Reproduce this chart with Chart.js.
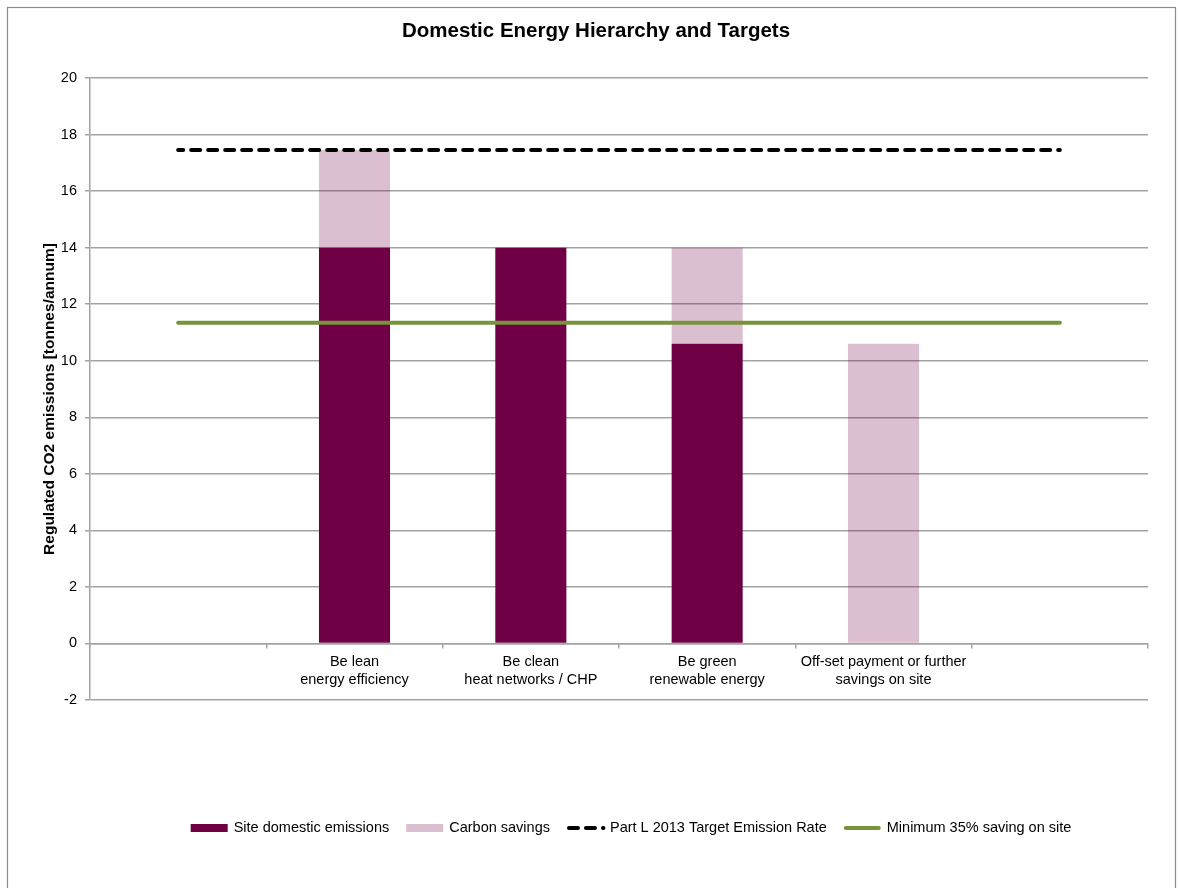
<!DOCTYPE html>
<html>
<head>
<meta charset="utf-8">
<title>Domestic Energy Hierarchy and Targets</title>
<script src="https://cdn.jsdelivr.net/npm/chart.js@4.4.1/dist/chart.umd.min.js"></script>
<style>
    html, body { margin: 0; padding: 0; background: #fff; }
    #wrap { position: relative; width: 1178px; height: 888px; }
</style>
</head>
<body>
<div id="wrap"><canvas id="chartEnergy"></canvas></div>
<script>
// Data
const categories = [
    '',
    ['Be lean', 'energy efficiency'],
    ['Be clean', 'heat networks / CHP'],
    ['Be green', 'renewable energy'],
    ['Off-set payment or further', 'savings on site'],
    ''
];
const siteEmissions = [null, 14.0, 14.0, 10.6, 0, null];
const carbonSavings = [null, 3.45, 0, 3.4, 10.6, null];
const targetEmissionRate = [17.45, 17.45, 17.45, 17.45, 17.45, 17.45];
const minimumSaving = [11.34, 11.34, 11.34, 11.34, 11.34, 11.34];
const yTicks = [-2, 0, 2, 4, 6, 8, 10, 12, 14, 16, 18, 20];
const seriesNames = ['Site domestic emissions', 'Carbon savings', 'Part L 2013 Target Emission Rate', 'Minimum 35% saving on site'];
const yAxisTitle = 'Regulated CO2 emissions [tonnes/annum]';

const FONT = '"Liberation Sans", Arial, sans-serif';
const darkPurple = '#6F0045';
const lightPurple = 'rgba(111, 0, 69, 0.25)';
const green = '#77933C';
const gridGray = '#A3A3A3';

// Legend, judul sumbu Y dan frame digambar manual supaya posisinya sama dengan gambar
const legendAndFrame = {
    id: 'legendAndFrame',
    afterDraw(chart) {
        const ctx = chart.ctx;
        ctx.save();

        ctx.strokeStyle = '#8C8C8C';
        ctx.lineWidth = 1.2;
        ctx.strokeRect(7.5, 7.5, 1168, 920);

        // judul sumbu Y
        ctx.save();
        ctx.translate(50, 399);
        ctx.rotate(-Math.PI / 2);
        ctx.font = 'bold 15.5px ' + FONT;
        ctx.textAlign = 'center';
        ctx.textBaseline = 'middle';
        ctx.fillStyle = '#000';
        ctx.fillText(yAxisTitle, 0, 0);
        ctx.restore();

        ctx.font = '14.5px ' + FONT;
        ctx.textBaseline = 'middle';
        ctx.fillStyle = '#000';
        const y = 828;
        const sample = 37, gapText = 6, gapItem = 17;
        const widths = seriesNames.map(n => sample + gapText + ctx.measureText(n).width);
        const total = widths.reduce((a, b) => a + b, 0) + gapItem * (widths.length - 1);
        let x = 631 - total / 2;

        seriesNames.forEach((name, i) => {
            if (i < 2) {
                ctx.fillStyle = i === 0 ? darkPurple : lightPurple;
                ctx.fillRect(x, y - 4, sample, 8);
            } else {
                ctx.beginPath();
                ctx.lineWidth = 4;
                ctx.lineCap = 'round';
                ctx.strokeStyle = i === 2 ? '#000' : green;
                ctx.setLineDash(i === 2 ? [9, 8] : []);
                ctx.moveTo(x + 2, y);
                ctx.lineTo(x + (i === 2 ? 36.5 : sample - 2), y);
                ctx.stroke();
                ctx.setLineDash([]);
            }
            ctx.fillStyle = '#000';
            ctx.fillText(name, x + sample + gapText, y);
            x += widths[i] + gapItem;
        });
        ctx.restore();
    }
};

const canvas = document.getElementById('chartEnergy');
canvas.width = 1178;
canvas.height = 888;

new Chart(canvas.getContext('2d'), {
    data: {
        labels: categories,
        datasets: [
            {
                type: 'line',
                label: seriesNames[2],
                data: targetEmissionRate,
                borderColor: '#000',
                borderWidth: 4,
                borderDash: [9, 8],
                borderDashOffset: 4,
                borderCapStyle: 'round',
                pointRadius: 0,
                stack: 'target',
                order: 0
            },
            {
                type: 'line',
                label: seriesNames[3],
                data: minimumSaving,
                borderColor: green,
                borderWidth: 4,
                borderCapStyle: 'round',
                pointRadius: 0,
                stack: 'minimum',
                order: 0
            },
            {
                type: 'bar',
                label: seriesNames[0],
                data: siteEmissions,
                backgroundColor: darkPurple,
                stack: 'bars',
                order: 1,
                categoryPercentage: 1,
                barPercentage: 0.403
            },
            {
                type: 'bar',
                label: seriesNames[1],
                data: carbonSavings,
                backgroundColor: lightPurple,
                stack: 'bars',
                order: 1,
                categoryPercentage: 1,
                barPercentage: 0.403
            }
        ]
    },
    options: {
        responsive: false,
        animation: false,
        events: [],
        layout: { padding: { left: 44, right: 30, top: 0, bottom: 188 } },
        plugins: {
            legend: { display: false },
            tooltip: { enabled: false },
            title: {
                display: true,
                text: 'Domestic Energy Hierarchy and Targets',
                color: '#000',
                font: { family: FONT, size: 20.5, weight: 'bold', lineHeight: 1.2 },
                padding: { top: 19, bottom: 34.4 }
            }
        },
        scales: {
            x: {
                type: 'category',
                position: { y: 0 },
                stacked: true,
                offset: true,
                grid: {
                    offset: true,
                    drawOnChartArea: false,
                    drawTicks: true,
                    tickLength: 4,
                    color: gridGray,
                    lineWidth: 1.5
                },
                border: { display: true, color: gridGray, width: 1.5 },
                ticks: {
                    color: '#000',
                    font: { family: FONT, size: 14.5, lineHeight: 1.2 },
                    padding: 6,
                    autoSkip: false,
                    maxRotation: 0,
                    minRotation: 0
                }
            },
            y: {
                stacked: true,
                min: -2,
                max: 20,
                afterBuildTicks(scale) {
                    scale.ticks = yTicks.map(v => ({ value: v }));
                },
                afterFit(scale) {
                    scale.width = 46;
                },
                grid: {
                    color: gridGray,
                    lineWidth: 1.5,
                    drawTicks: true,
                    tickLength: 5
                },
                border: { display: true, color: gridGray, width: 1.5 },
                ticks: {
                    color: '#000',
                    font: { family: FONT, size: 14.5 },
                    padding: 8
                },
                title: { display: false }
            }
        }
    },
    plugins: [legendAndFrame]
});
</script>
</body>
</html>
